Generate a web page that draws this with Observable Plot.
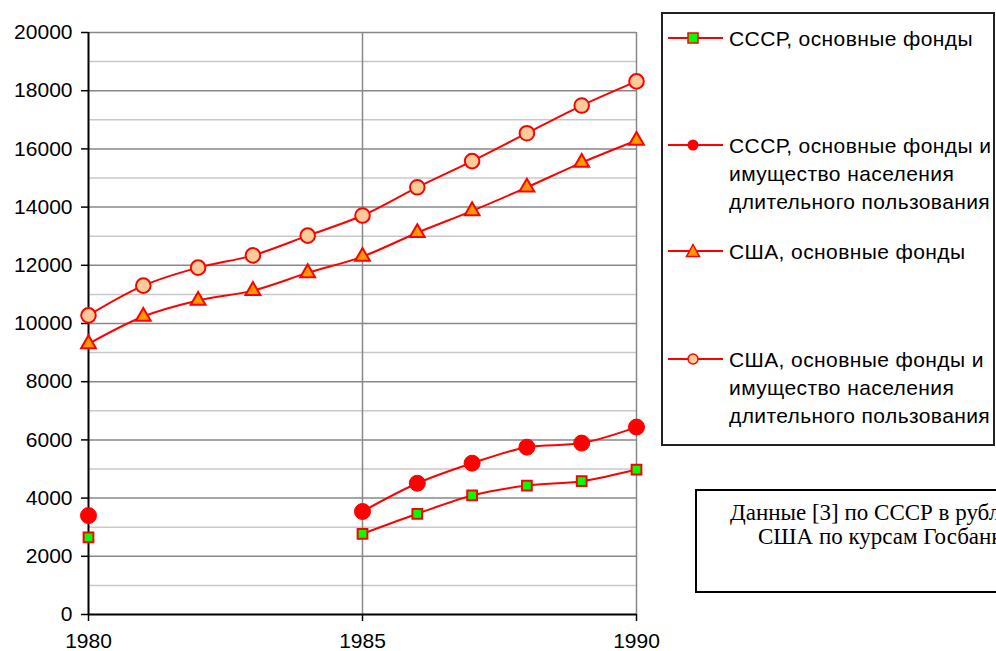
<!DOCTYPE html>
<html>
<head>
<meta charset="utf-8">
<script src="https://cdn.jsdelivr.net/npm/d3@7"></script>
<script src="https://cdn.jsdelivr.net/npm/@observablehq/plot@0.6"></script>
<style>
  html, body { margin: 0; padding: 0; background: #fff; overflow: hidden; width: 996px; height: 651px; }
  #wrap { position: relative; width: 996px; height: 651px; overflow: hidden; }
  #chart { position: absolute; left: 0; top: 0; }
  .legend { position: absolute; left: 661px; top: 12px; width: 334px; height: 434px; border: 2px solid #222; box-sizing: border-box; }
  .sw { position: absolute; left: 666px; }
  .ltxt { position: absolute; left: 729px; font-family: "Liberation Sans", Arial, sans-serif; font-size: 21px; letter-spacing: 0.4px; line-height: 28px; white-space: nowrap; color: #000; }
  .note { position: absolute; left: 695px; top: 489px; width: 420px; height: 104px; border: 2px solid #000; box-sizing: border-box; }
  .ntxt { position: absolute; font-family: "Liberation Serif", "Times New Roman", serif; font-size: 23px; line-height: 24px; white-space: nowrap; color: #000; }
</style>
</head>
<body>
<div id="wrap">
  <div id="chart"></div>
</div>
<script>
// ---- data ----
const years = [1980, 1981, 1982, 1983, 1984, 1985, 1986, 1987, 1988, 1989, 1990];
const usaFull  = [10280, 11300, 11920, 12340, 13020, 13710, 14680, 15580, 16540, 17490, 18320];
const usaFixed = [9300, 10240, 10790, 11130, 11740, 12300, 13120, 13870, 14680, 15530, 16290];
const ussrFull  = [3400, null, null, null, null, 3540, 4510, 5200, 5750, 5890, 6440];
const ussrFixed = [2650, null, null, null, null, 2770, 3460, 4090, 4430, 4580, 4980];
const xTicks = [1980, 1985, 1990];
const yMajor = [0, 2000, 4000, 6000, 8000, 10000, 12000, 14000, 16000, 18000, 20000];
const yMinor = [1000, 3000, 5000, 7000, 9000, 11000, 13000, 15000, 17000, 19000];
const xGrid = [1985, 1990];
const legendLines = [
  ["СССР, основные фонды"],
  ["СССР, основные фонды и", "имущество населения", "длительного пользования"],
  ["США, основные фонды"],
  ["США, основные фонды и", "имущество населения", "длительного пользования"]
];
const noteLines = ["Данные [3] по СССР в рублях, по", "США по курсам Госбанка СССР"];

const toRows = (vals) => years.map((year, i) => ({year, v: vals[i]}));
const sUssrFixed = toRows(ussrFixed);
const sUssrFull = toRows(ussrFull);
const sUsaFixed = toRows(usaFixed);
const sUsaFull = toRows(usaFull);
const def = d => d.v != null;

const chart = Plot.plot({
  width: 996,
  height: 651,
  marginLeft: 88,
  marginRight: 360,
  marginTop: 32,
  marginBottom: 37,
  x: {domain: [1980, 1990], label: null},
  y: {domain: [0, 20000], label: null},
  style: {fontFamily: "'Liberation Sans', Arial, sans-serif", fontSize: "21px", color: "#000", background: "transparent", overflow: "visible"},
  marks: [
    Plot.ruleY(yMinor, {stroke: "#c8c8c8", strokeWidth: 1.5}),
    Plot.ruleY(yMajor.filter(d => d > 0), {stroke: "#888", strokeWidth: 1.5}),
    Plot.ruleX(xGrid, {stroke: "#888", strokeWidth: 1.5}),
    Plot.axisY(yMajor, {tickSize: 7, tickPadding: 9, fontSize: 21, tickFormat: d => String(d), label: null, strokeWidth: 1.5}),
    Plot.axisX(xTicks, {tickSize: 7, tickPadding: 12, fontSize: 21, tickFormat: d => String(d), label: null, strokeWidth: 1.5}),
    Plot.ruleX([1980], {stroke: "#000", strokeWidth: 2}),
    Plot.ruleY([0], {stroke: "#000", strokeWidth: 2}),
    Plot.line(sUsaFull, {x: "year", y: "v", curve: "catmull-rom", stroke: "#ff0000", strokeWidth: 2}),
    Plot.line(sUsaFixed, {x: "year", y: "v", curve: "catmull-rom", stroke: "#ff0000", strokeWidth: 2}),
    Plot.line(sUssrFull, {x: "year", y: "v", curve: "catmull-rom", stroke: "#ff0000", strokeWidth: 2}),
    Plot.line(sUssrFixed, {x: "year", y: "v", curve: "catmull-rom", stroke: "#ff0000", strokeWidth: 2}),
    Plot.dot(sUsaFull, {x: "year", y: "v", symbol: "circle", r: 7.3, fill: "#ffcc99", stroke: "#ff0000", strokeWidth: 2}),
    Plot.dot(sUsaFixed, {x: "year", y: "v", symbol: "triangle", r: 5.5, fill: "#ff9900", stroke: "#ff0000", strokeWidth: 2}),
    Plot.dot(sUssrFull, {x: "year", y: "v", filter: def, symbol: "circle", r: 8, fill: "#ff0000", stroke: "#ff0000", strokeWidth: 1}),
    Plot.dot(sUssrFixed, {x: "year", y: "v", filter: def, symbol: "square", r: 5.5, fill: "#00ff00", stroke: "#ff0000", strokeWidth: 2})
  ]
});
document.getElementById("chart").appendChild(chart);

// ---- legend ----
const wrap = document.getElementById("wrap");
const legend = document.createElement("div");
legend.className = "legend";
wrap.appendChild(legend);
const markers = [
  `<rect x="22" y="5" width="10" height="10" fill="#00ff00" stroke="#ff0000" stroke-width="1.5"/>`,
  `<circle cx="27" cy="10" r="5.5" fill="#ff0000"/>`,
  `<path d="M27,3.5 L33.5,15.5 L20.5,15.5 Z" fill="#ff9900" stroke="#ff0000" stroke-width="1.5"/>`,
  `<circle cx="27" cy="10" r="5" fill="#ffcc99" stroke="#ff0000" stroke-width="1.5"/>`
];
const baselines = [47, 154, 260, 368];
legendLines.forEach((lines, i) => {
  const sw = document.createElement("div");
  sw.className = "sw";
  sw.style.top = (baselines[i] - 9 - 10) + "px";
  sw.innerHTML = `<svg width="60" height="20" viewBox="0 0 60 20"><line x1="2" y1="10" x2="57" y2="10" stroke="#ff0000" stroke-width="2"/>${markers[i]}</svg>`;
  wrap.appendChild(sw);
  const t = document.createElement("div");
  t.className = "ltxt";
  t.style.top = (baselines[i] - 22.5) + "px";
  t.innerHTML = lines.join("<br>");
  wrap.appendChild(t);
});

// ---- note box ----
const note = document.createElement("div");
note.className = "note";
wrap.appendChild(note);
[[730, 501], [758, 525]].forEach(([x, y], i) => {
  const n = document.createElement("div");
  n.className = "ntxt";
  n.style.left = x + "px";
  n.style.top = y + "px";
  n.textContent = noteLines[i];
  wrap.appendChild(n);
});
</script>
</body>
</html>
